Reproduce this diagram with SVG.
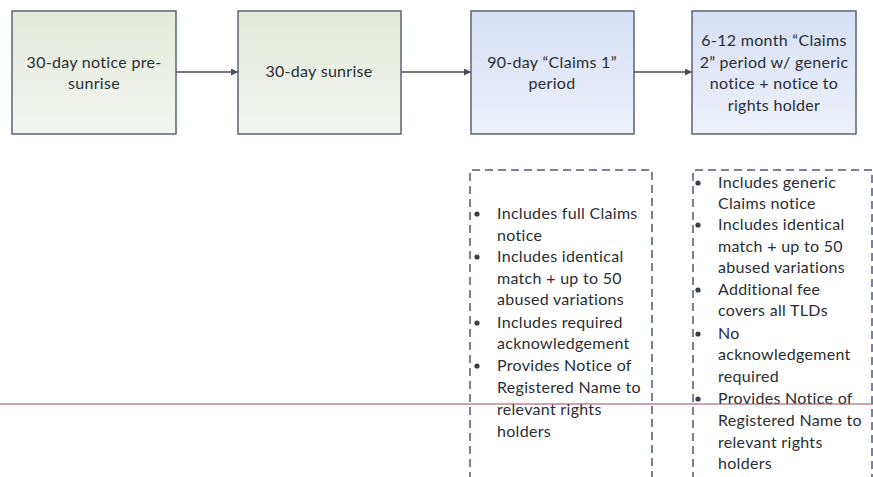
<svg xmlns="http://www.w3.org/2000/svg" width="873" height="477" viewBox="0 0 873 477">
<style>
.box{stroke:#5b6475;stroke-width:1.5}
.t{font-family:Lato,"Liberation Sans",sans-serif;font-size:16px;letter-spacing:0.3px;fill:#2a2e33}
.c{text-anchor:middle}
.dash{fill:none;stroke:#4e5a78;stroke-width:1.5;stroke-dasharray:8 5}
.conn{stroke:#4a4f5a;stroke-width:1.3;fill:none}
</style>
<defs>
<linearGradient id="gG" x1="0" y1="0" x2="0" y2="1"><stop offset="0" stop-color="#e3eadb"/><stop offset="1" stop-color="#f3f5f1"/></linearGradient>
<linearGradient id="gB" x1="0" y1="0" x2="0" y2="1"><stop offset="0" stop-color="#d6dff6"/><stop offset="1" stop-color="#eef1fa"/></linearGradient>
<marker id="ah" viewBox="0 0 10 10" refX="10" refY="5" markerWidth="7" markerHeight="7" orient="auto" markerUnits="userSpaceOnUse"><path d="M0,0 L10,5 L0,10 z" fill="#4a4f5a"/></marker>
</defs>
<rect width="873" height="477" fill="#ffffff"/>
<g id="connectors">
<line class="conn" x1="176" y1="72" x2="238" y2="72" marker-end="url(#ah)"/>
<line class="conn" x1="401" y1="72" x2="471" y2="72" marker-end="url(#ah)"/>
<line class="conn" x1="634" y1="72" x2="692" y2="72" marker-end="url(#ah)"/>
</g>
<g id="n1">
<rect class="box" x="12" y="11" width="164" height="123" fill="url(#gG)"/>
<text class="t c" x="94" y="68">30-day notice pre-</text>
<text class="t c" x="94" y="89">sunrise</text>
</g>
<g id="n2">
<rect class="box" x="238" y="11" width="163" height="123" fill="url(#gG)"/>
<text class="t c" x="319" y="77">30-day sunrise</text>
</g>
<g id="n3">
<rect class="box" x="471" y="11" width="163" height="123" fill="url(#gB)"/>
<text class="t c" x="552" y="68">90-day “Claims 1”</text>
<text class="t c" x="552" y="89">period</text>
</g>
<g id="n4">
<rect class="box" x="692" y="11" width="164" height="123" fill="url(#gB)"/>
<text class="t c" x="774" y="46">6-12 month “Claims</text>
<text class="t c" x="774" y="68">2” period w/ generic</text>
<text class="t c" x="774" y="89">notice + notice to</text>
<text class="t c" x="774" y="111">rights holder</text>
</g>
<g id="n5">
<path class="dash" d="M470,480 L470,170 L652,170 L652,480"/>
<g fill="#3a3e45"><circle cx="477" cy="214" r="2.6"/><circle cx="477" cy="257" r="2.6"/><circle cx="477" cy="323" r="2.6"/><circle cx="477" cy="366" r="2.6"/></g>
<text class="t" x="497" y="219">Includes full Claims</text>
<text class="t" x="497" y="241">notice</text>
<text class="t" x="497" y="262">Includes identical</text>
<text class="t" x="497" y="284">match + up to 50</text>
<text class="t" x="497" y="305">abused variations</text>
<text class="t" x="497" y="328">Includes required</text>
<text class="t" x="497" y="349">acknowledgement</text>
<text class="t" x="497" y="371">Provides Notice of</text>
<text class="t" x="497" y="393">Registered Name to</text>
<text class="t" x="497" y="415">relevant rights</text>
<text class="t" x="497" y="437">holders</text>
</g>
<g id="n6">
<path class="dash" d="M693,480 L693,170 L872,170 L872,480"/>
<g fill="#3a3e45"><circle cx="698" cy="183" r="2.6"/><circle cx="698" cy="225" r="2.6"/><circle cx="698" cy="290" r="2.6"/><circle cx="698" cy="334" r="2.6"/><circle cx="698" cy="399" r="2.6"/></g>
<text class="t" x="718" y="188">Includes generic</text>
<text class="t" x="718" y="209">Claims notice</text>
<text class="t" x="718" y="230">Includes identical</text>
<text class="t" x="718" y="252">match + up to 50</text>
<text class="t" x="718" y="273">abused variations</text>
<text class="t" x="718" y="295">Additional fee</text>
<text class="t" x="718" y="316">covers all TLDs</text>
<text class="t" x="718" y="339">No</text>
<text class="t" x="718" y="360">acknowledgement</text>
<text class="t" x="718" y="382">required</text>
<text class="t" x="718" y="404">Provides Notice of</text>
<text class="t" x="718" y="426">Registered Name to</text>
<text class="t" x="718" y="448">relevant rights</text>
<text class="t" x="718" y="469">holders</text>
</g>
<line x1="0" y1="404" x2="873" y2="404" stroke="#9a4a5c" stroke-width="1"/>
</svg>
